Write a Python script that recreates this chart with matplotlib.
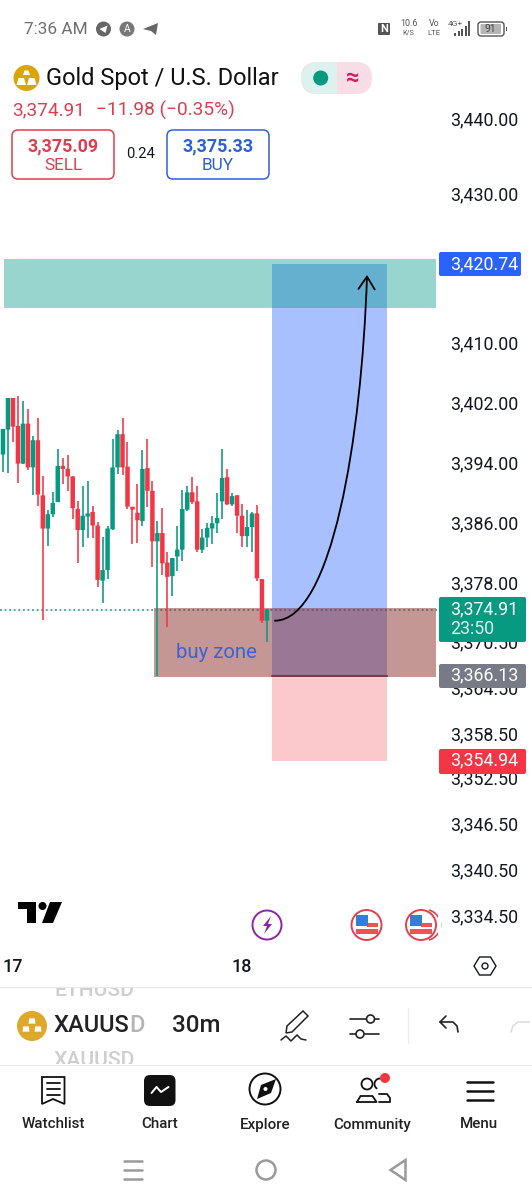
import numpy as np
import matplotlib
matplotlib.use("Agg")
import matplotlib.pyplot as plt
from matplotlib.patches import Circle, FancyBboxPatch, FancyArrowPatch, Polygon, Rectangle, Wedge, Arc
from matplotlib.path import Path
from matplotlib.transforms import offset_copy

plt.rcParams["font.family"] = ["Roboto", "DejaVu Sans"]

# 30m candles
opens = [3395.5, 3398.8, 3403.0, 3399.3, 3394.3, 3399.6, 3393.8, 3397.4, 3390.1, 3385.7,
         3387.6, 3389.2, 3394.0, 3393.6, 3392.6, 3388.3, 3385.5, 3387.3, 3387.9, 3386.1,
         3378.8, 3380.2, 3385.6, 3393.8, 3398.2, 3393.9, 3388.6, 3387.8, 3386.7, 3393.7,
         3390.7, 3384.0, 3385.1, 3381.2, 3379.4, 3382.0, 3382.9, 3388.2, 3390.5, 3389.3,
         3382.9, 3384.5, 3385.7, 3386.4, 3389.3, 3392.5, 3388.9, 3390.1, 3387.4, 3384.7,
         3385.9, 3387.7, 3379.0, 3373.5]
highs = [3398.9, 3403.0, 3403.0, 3403.3, 3402.6, 3401.5, 3397.9, 3400.4, 3392.7, 3388.1,
         3390.6, 3396.3, 3395.0, 3395.5, 3392.6, 3389.3, 3391.3, 3392.0, 3388.7, 3386.6,
         3384.6, 3386.0, 3397.5, 3398.8, 3400.3, 3397.1, 3388.6, 3391.6, 3396.1, 3397.5,
         3392.0, 3386.7, 3388.4, 3382.6, 3381.8, 3386.0, 3390.8, 3391.3, 3392.5, 3391.4,
         3385.6, 3386.4, 3387.3, 3390.4, 3396.2, 3393.6, 3390.4, 3390.1, 3388.9, 3388.2,
         3387.9, 3388.8, 3379.0, 3375.1]
lows = [3393.2, 3393.0, 3397.2, 3391.7, 3394.3, 3393.4, 3390.2, 3388.7, 3373.6, 3383.4,
        3387.2, 3389.2, 3391.6, 3390.7, 3387.0, 3381.2, 3383.2, 3384.5, 3384.4, 3377.9,
        3375.8, 3379.0, 3385.5, 3392.9, 3392.8, 3388.3, 3383.6, 3383.8, 3386.0, 3388.5,
        3380.6, 3366.2, 3379.6, 3372.6, 3376.8, 3380.1, 3381.4, 3388.0, 3388.9, 3382.6,
        3382.5, 3383.3, 3383.7, 3385.1, 3386.9, 3388.8, 3388.7, 3385.1, 3383.2, 3383.3,
        3382.6, 3378.8, 3373.2, 3370.7]
closes = [3398.9, 3403.0, 3399.2, 3394.3, 3399.6, 3393.8, 3397.4, 3390.2, 3385.7, 3387.6,
          3389.1, 3394.0, 3393.6, 3392.6, 3388.4, 3385.5, 3387.4, 3387.7, 3386.1, 3378.9,
          3380.2, 3385.7, 3393.8, 3398.2, 3393.8, 3388.6, 3388.2, 3386.8, 3393.6, 3390.7,
          3384.0, 3385.1, 3381.1, 3379.3, 3381.8, 3382.9, 3388.3, 3390.5, 3389.2, 3382.9,
          3384.5, 3385.8, 3386.4, 3387.1, 3392.4, 3388.9, 3390.0, 3387.4, 3384.7, 3385.9,
          3387.7, 3379.1, 3373.5, 3375.0]

price_ticks = [3440, 3430, 3410, 3402, 3394, 3386, 3378, 3370.5, 3364.5, 3358.5, 3352.5,
               3346.5, 3340.5, 3334.5]
# the app's labels sit a few pixels off a straight scale
tick_nudge = [0, 1, 3, 3.5, 4, 3.5, 4, 2, 1.5, 1, 1.5, 1, 0, -0.5]

last_price = 3374.91
target_price = 3420.74
entry_price = 3366.13
stop_price = 3354.94
target_zone = (3414.9, 3421.4)
buy_zone = (3366.0, 3375.2)

# bars, fractional candle index
zone_left = 0.2
buy_left = 30.3
zone_right = 86.95
pos_left = 54.0
pos_right = 77.1

arrow_x = [54.6, 66.0, 72.0, 73.1]
arrow_p = [3373.5, 3373.5, 3397.5, 3419.3]

date_pos = [1.9, 48.0]
date_labels = ["17", "18"]

GREEN = "#089981"
RED = "#F23645"
BLUE = "#2962FF"
GREY = "#787B86"
INK = "#131722"

fig = plt.figure(figsize=(5.32, 12.0), dpi=100, facecolor="white")

# chart area, pixel box 0..437 x 60..950
ax = fig.add_axes([0, 250 / 1200, 437 / 532, 890 / 1200])
ax.set_xlim(-3 / 4.98, 434 / 4.98)
ax.set_ylim(target_price - (950 - 264) / 7.55, target_price - (60 - 264) / 7.55)
for s in ax.spines.values():
    s.set_visible(False)
ax.patch.set_visible(False)

idx = np.arange(len(opens))
o, h, l, c = map(np.array, (opens, highs, lows, closes))
cols = [GREEN if cc >= oo else RED for oo, cc in zip(o, c)]
ax.vlines(idx, l, h, colors=cols, lw=1.15, zorder=6)
bars = ax.bar(idx, np.abs(c - o), bottom=np.minimum(o, c), width=0.9, color=cols, zorder=6.5)
for b in bars:
    b.set_snap(False)

ax.axhline(last_price, color=GREEN, lw=1.1, ls=(0, (1.2, 1.8)), zorder=1)

ax.fill_between([pos_left, pos_right], stop_price, entry_price, color=RED, alpha=0.27, lw=0, zorder=4)
ax.fill_between([pos_left, pos_right], entry_price, target_price, color=BLUE, alpha=0.40, lw=0, zorder=4)
ax.fill_between([buy_left, zone_right], buy_zone[0], buy_zone[1], color="#8B302D", alpha=0.5, lw=0, zorder=5)
ax.fill_between([zone_left, zone_right], target_zone[0], target_zone[1], color="#009688", alpha=0.40, lw=0, zorder=5)
ax.plot([pos_left, pos_right], [entry_price, entry_price], color="#6b2f3f", lw=1.2, zorder=6)

ax.add_patch(FancyArrowPatch(
    path=Path(list(zip(arrow_x, arrow_p)), [Path.MOVETO, Path.CURVE4, Path.CURVE4, Path.CURVE4]),
    arrowstyle="->,head_length=0.7,head_width=0.45", mutation_scale=13, lw=1.3, color="black", zorder=7,
    transform=ax.transData))

ax.yaxis.tick_right()
ax.set_yticks(price_ticks)
ax.set_yticklabels([f"{p:,.2f}" for p in price_ticks])
ax.tick_params(axis="y", length=0, pad=9.4, labelsize=12.8, labelcolor=INK)
for lab, dy in zip(ax.get_yticklabels(), tick_nudge):
    lab.set_transform(offset_copy(lab.get_transform(), fig=fig, y=dy, units="dots"))
ax.set_xticks(date_pos)
ax.set_xticklabels(date_labels, fontweight="medium")
ax.tick_params(axis="x", length=0, pad=6, labelsize=13, labelcolor=INK)

# overlay in pixel coordinates for the app chrome
ui = fig.add_axes([0, 0, 1, 1], zorder=5)
ui.set_xlim(0, 532)
ui.set_ylim(1200, 0)
ui.axis("off")


def txt(x, y, s, size, color=INK, weight="normal", ha="left", **kw):
    return ui.text(x, y, s, fontsize=size, color=color, fontweight=weight, ha=ha, va="center", **kw)


def box(x0, y0, x1, y1, r, fc="none", ec="none", lw=1.0, **kw):
    p = FancyBboxPatch((x0, y0), x1 - x0, y1 - y0, boxstyle=f"round,pad=0,rounding_size={r}",
                       fc=fc, ec=ec, lw=lw, **kw)
    ui.add_patch(p)
    return p


def line(xs, ys, color=INK, lw=1.5, **kw):
    ui.plot(xs, ys, color=color, lw=lw, solid_capstyle="round", **kw)


def circ(x, y, r, fc="none", ec="none", lw=1.0):
    ui.add_patch(Circle((x, y), r, fc=fc, ec=ec, lw=lw))


# status bar
txt(24, 29, "7:36 AM", 12.4, "#6f6f6f")
circ(103.5, 29, 7.5, fc="#666666")
ui.add_patch(Polygon([[99.5, 29], [107.5, 25.5], [105.5, 33]], fc="white"))
circ(127, 29, 7.5, fc="#777777")
txt(127, 29, "A", 7.5, "white", ha="center")
ui.add_patch(Polygon([[143, 29], [158, 23], [156, 35], [151, 31]], fc="#666666"))
box(378, 23, 390, 35, 1, fc="#555555")
txt(384, 29, "N", 8, "white", "bold", ha="center")
txt(408.5, 23.5, "10.6", 6.4, "#555555", ha="center")
txt(408.5, 33, "K/S", 5.2, "#555555", ha="center")
txt(434, 23.5, "Vo", 6.4, "#555555", ha="center")
txt(434, 33, "LTE", 5.6, "#555555", ha="center")
txt(455, 24, "4G+", 6, "#555555", ha="center")
for bx, bh in zip([454, 457.5, 461, 464.5, 468], [3, 5, 7, 10, 15]):
    ui.add_patch(Rectangle((bx, 36 - bh), 2.2, bh, fc="#555555"))
box(478, 22, 504, 36, 3, ec="#555555", lw=1.0)
box(480.5, 24, 501, 34, 1, fc="#b5b5b5")
txt(490.5, 29, "91", 7.5, "#444444", ha="center")
ui.add_patch(Rectangle((505.5, 27), 1.5, 4, fc="#555555"))

# symbol header
circ(26.5, 78, 13, fc="#DBA50A")
ui.add_patch(Polygon([[23, 75], [30, 75], [28.5, 70.5], [24.5, 70.5]], fc="white"))
ui.add_patch(Polygon([[16.5, 85], [26, 85], [24, 78], [18.5, 78]], fc="white"))
ui.add_patch(Polygon([[27, 85], [36.5, 85], [34.5, 78], [29, 78]], fc="white"))
txt(46, 78.5, "Gold Spot / U.S. Dollar", 17.05, "#111111")
box(301, 62, 372, 94, 16, fc="#F8DCE6")
ui.add_patch(Wedge((317, 78), 16, 90, 270, fc="#DDF1EE"))
ui.add_patch(Rectangle((317, 62), 20, 32, fc="#DDF1EE"))
circ(320.7, 78, 7.5, fc=GREEN)
txt(353, 78, "≈", 17, "#D81B60", "bold", ha="center")
txt(12, 110, "3,374.91", 13.7, "#DC3F50")
txt(96, 110, "−11.98 (−0.35%)", 13.8, "#DC3F50")

box(12, 130, 114, 179, 6, ec="#DC3F50", lw=1.1)
txt(63, 146, "3,375.09", 12.9, "#DC3F50", "bold", ha="center")
txt(63, 165.5, "SELL", 12.4, "#DC3F50", ha="center")
txt(140.5, 154, "0.24", 10.6, INK, ha="center")
box(167, 130, 269, 179, 6, ec="#2F5FD8", lw=1.1)
txt(218, 146, "3,375.33", 12.9, "#2F5FD8", "bold", ha="center")
txt(218, 165.5, "BUY", 12.4, "#2F5FD8", ha="center")

# price badges
box(439, 252, 521, 276, 2, fc=BLUE)
txt(450.5, 264, "3,420.74", 12.8, "white")
box(439, 597, 526, 642, 2, fc=GREEN)
txt(450.5, 609, "3,374.91", 12.8, "white")
txt(450.5, 629, "23:50", 12.8, "#d9f2ec")
box(439, 664, 526, 688, 2, fc=GREY)
txt(450.5, 675, "3,366.13", 12.8, "white")
box(439, 749, 526, 774, 2, fc=RED)
txt(450.5, 760, "3,354.94", 12.8, "white")

txt(176, 652, "buy zone", 14.7, "#3D62D6")

# chart logo and event markers
ui.add_patch(Polygon([[17.5, 902], [35.5, 902], [35.5, 923], [26.5, 923], [26.5, 909], [17.5, 909]], fc="black"))
circ(42.5, 906, 4, fc="black")
ui.add_patch(Polygon([[50, 902], [62, 902], [53, 923], [42, 923]], fc="black"))
circ(267, 925, 14.5, fc="white", ec="#8E24AA", lw=1.4)
ui.add_patch(Polygon([[271, 916], [263, 926], [267, 926], [264, 934], [272, 924], [268, 924]], fc="#8E24AA"))
for fx in (366.5, 421):
    circ(fx, 925, 15, fc="white", ec="#E0404F", lw=1.4)
    ui.add_patch(Rectangle((fx, 923), 11, 3.5, fc="#EF5350"))
    ui.add_patch(Rectangle((fx - 11, 929), 22, 4.5, fc="#EF5350"))
    ui.add_patch(Rectangle((fx - 11, 915), 12, 11, fc="#2F80DE"))
ui.add_patch(Arc((425, 925), 31, 31, theta1=-75, theta2=75, ec="#E0404F", lw=1.2))
ui.add_patch(Rectangle((437.5, 905), 3, 40, fc="white", ec="none"))

# settings hexagon, separators
ui.add_patch(Polygon([[474, 966], [479.5, 957], [490.5, 957], [496, 966], [490.5, 975], [479.5, 975]],
                     fc="none", ec=INK, lw=1.0))
circ(485, 966, 3, ec=INK, lw=1.0)
line([0, 532], [987, 987], "#e8e8e8", 0.9)
line([0, 532], [1064.5, 1064.5], "#e8e8e8", 0.9)

# symbol row
clip_row = Rectangle((0, 988), 532, 76, transform=ui.transData)
txt(54, 990.5, "ETHUSD", 15.2, "#cfcfcf", "medium", clip_on=True).set_clip_path(clip_row)
txt(54, 1060.5, "XAUUSD", 15.2, "#cfcfcf", "medium", clip_on=True).set_clip_path(clip_row)
circ(32, 1026, 15, fc="#DDA92A")
for bx, by in [(32, 1021), (26, 1029), (38, 1029)]:
    ui.add_patch(Polygon([[bx - 4, by + 3], [bx + 4, by + 3], [bx + 3, by - 3], [bx - 3, by - 3]],
                         fc="white", ec="#DDA92A", lw=0.5))
txt(54, 1026, "XAUUS", 17, "#222222", "medium")
txt(129, 1026, "D", 17, "#b5b5b5", "medium")
txt(172, 1026, "30m", 17.4, "#222222", "medium")

# pen icon
ui.add_patch(Polygon([[287, 1026], [303, 1011], [308, 1016], [292, 1032], [286, 1033]], fc="none", ec="#222222", lw=1.1))
line([281, 286, 291, 297, 301, 306], [1040, 1036, 1041, 1035, 1039, 1040], "#222222", 1.1)
# sliders
line([350, 366], [1019, 1019], "#222222", 1.2)
line([375, 379], [1019, 1019], "#222222", 1.2)
circ(370.5, 1019, 4, ec="#222222", lw=1.2)
line([350, 356], [1034, 1034], "#222222", 1.2)
line([364.5, 379], [1034, 1034], "#222222", 1.2)
circ(360, 1034, 4, ec="#222222", lw=1.2)
line([407.5, 407.5], [1008, 1043], "#eeeeee", 0.9)
# undo and redo
line([458, 457, 453, 440], [1032, 1026, 1022, 1022], "#222222", 1.2)
line([446, 440, 446], [1016, 1022, 1028], "#222222", 1.2)
line([511, 513, 518, 529], [1032, 1026, 1022, 1022], "#dddddd", 1.2)

# tab bar
tabs = ["Watchlist", "Chart", "Explore", "Community", "Menu"]
tab_x = [53, 159.5, 265.5, 372, 479]
for name, tx in zip(tabs, tab_x):
    txt(tx, 1124.5, name, 10.9, "#222222", "medium", ha="center")
    txt(tx, 1207, name, 10.9, "#222222", "medium", ha="center")

ui.add_patch(Polygon([[42, 1077], [64.5, 1077], [64.5, 1104], [53, 1099], [42, 1104]], fc="none", ec="#111111", lw=1.3))
for ly in (1083, 1089, 1095):
    line([46.5, 60], [ly, ly], "#111111", 1.3)
box(144, 1075, 175.5, 1106, 6, fc="#111111")
line([151.5, 156.5, 161, 168.5], [1093, 1087, 1092, 1087], "white", 1.4)
circ(265, 1089, 15.5, ec="#111111", lw=1.4)
ui.add_patch(Polygon([[276, 1079], [271, 1093], [257, 1099], [261, 1085]], fc="#111111"))
circ(265.5, 1089, 2, fc="white")
circ(367, 1084, 5.5, ec="#111111", lw=1.3)
line([357, 360.5, 372.5, 376.5, 357], [1102, 1096, 1096, 1102, 1102], "#111111", 1.3)
ui.add_patch(Arc((380, 1084), 11, 11, theta1=-60, theta2=150, angle=180, ec="#111111", lw=1.3))
line([379, 387, 390, 390, 379], [1094, 1094, 1098, 1102, 1102], "#111111", 1.3)
circ(385, 1078, 5, fc=RED)
for ly in (1081.5, 1090.5, 1100):
    line([467, 493], [ly, ly], "#111111", 1.8)

# android nav
for ly in (1161, 1170, 1179):
    line([124, 142], [ly, ly], "#9a9a9a", 1.8)
circ(266, 1170, 9.5, ec="#9a9a9a", lw=1.8)
ui.add_patch(Polygon([[405.5, 1160], [405.5, 1180], [390.5, 1170]], fc="none", ec="#9a9a9a", lw=1.8))

fig.savefig("out.png", dpi=100)
